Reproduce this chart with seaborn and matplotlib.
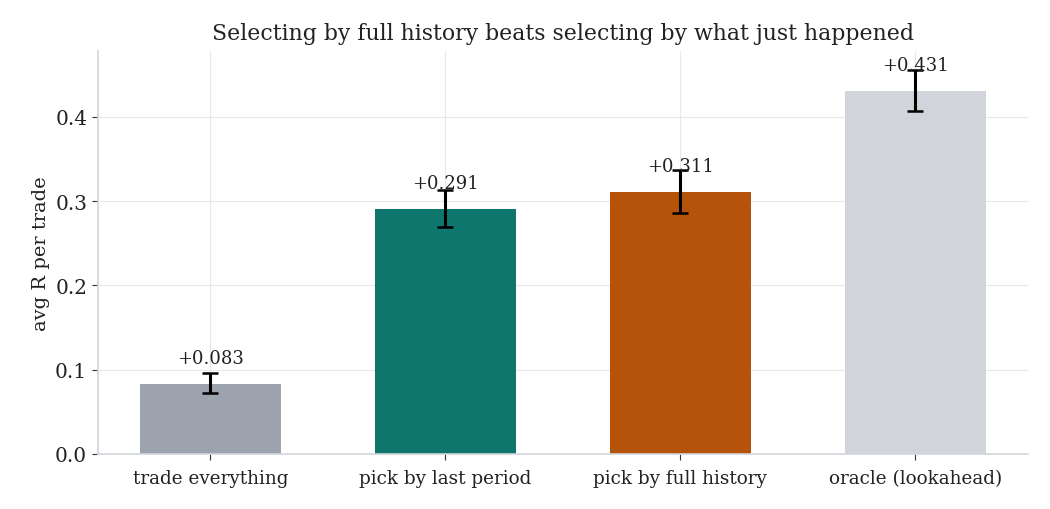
import pandas as pd
import seaborn as sns
import matplotlib.pyplot as plt

# data
CATEGORIES = ["trade everything", "pick by last period", "pick by full history", "oracle (lookahead)"]
AVG_R      = [0.083, 0.291, 0.311, 0.431]
ERR_LO     = [0.072, 0.269, 0.286, 0.407]
ERR_HI     = [0.096, 0.313, 0.337, 0.456]
COLORS     = ["#9ca3af", "#0f766e", "#b45309", "#d1d5db"]

df = pd.DataFrame({"strategy": CATEGORIES, "avg_r": AVG_R})

sns.set_style("whitegrid")
plt.rcParams["font.family"] = ["DejaVu Serif"]

fig, ax = plt.subplots(figsize=(10.5, 5.1), dpi=100)

sns.barplot(
    data=df, x="strategy", y="avg_r", hue="strategy",
    palette=COLORS, width=0.6, errorbar=None, legend=False,
    saturation=1, linewidth=0, ax=ax
)

yerr = [[v - lo for v, lo in zip(AVG_R, ERR_LO)],
        [hi - v for v, hi in zip(AVG_R, ERR_HI)]]
ax.errorbar(range(len(AVG_R)), AVG_R, yerr=yerr, fmt="none",
            ecolor="black", elinewidth=2.2, capsize=6, capthick=1.8, zorder=3)

for i, v in enumerate(AVG_R):
    ax.text(i, v + 0.02, f"+{v:.3f}", ha="center", va="bottom",
            fontsize=13, color="#222222")

ax.set_ylim(0, 0.478)
ax.set_yticks([0.0, 0.1, 0.2, 0.3, 0.4])
ax.set_title("Selecting by full history beats selecting by what just happened",
             fontsize=15.8, color="#222222", pad=9)
ax.set_xlabel("")
ax.set_ylabel("avg R per trade", fontsize=14, color="#222222")
ax.tick_params(axis="x", labelsize=13.2, colors="#222222", length=4, color="#333333", pad=7)
ax.tick_params(axis="y", labelsize=14.5, colors="#222222", length=4, color="#333333")
ax.tick_params(axis="both", which="major", bottom=True, left=True)
ax.grid(True, color="#e8e8e8", linewidth=0.8)
ax.set_axisbelow(True)

for s in ["top", "right"]:
    ax.spines[s].set_visible(False)
for s in ["left", "bottom"]:
    ax.spines[s].set_color("#d1d5db")
    ax.spines[s].set_linewidth(1.2)

plt.subplots_adjust(left=0.093, right=0.979, top=0.898, bottom=0.108)
plt.savefig("out.png", dpi=100)
